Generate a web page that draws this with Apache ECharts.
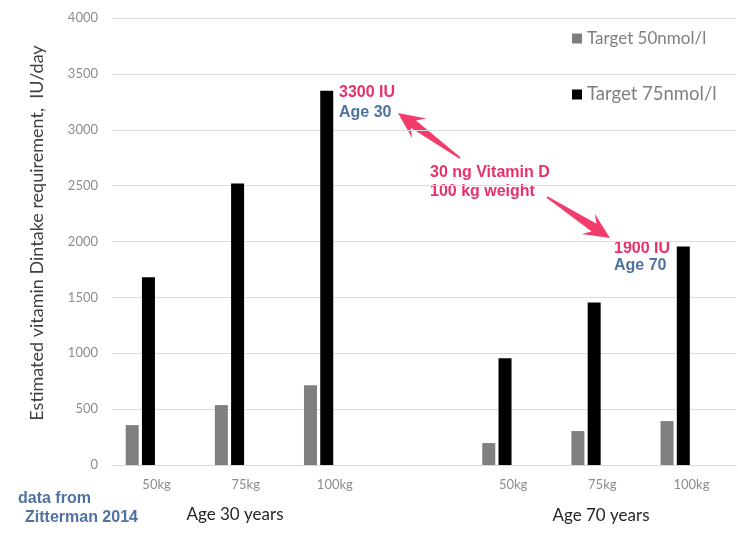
<!DOCTYPE html>
<html>
<head>
<meta charset="utf-8">
<script src="https://cdn.jsdelivr.net/npm/echarts@6/dist/echarts.min.js"></script>
<style>html,body{margin:0;padding:0;background:#fff}#c{width:738px;height:538px}</style>
</head>
<body>
<div id="c"></div>
<script>
const categories = ['50kg', '75kg', '100kg', '', '50kg', '75kg', '100kg'];
const target50 = [357, 536, 714, null, 196, 304, 393];
const target75 = [1679, 2518, 3348, null, 955, 1455, 1955];
const yTicks = [0, 500, 1000, 1500, 2000, 2500, 3000, 3500, 4000];
const seriesNames = ['Target 50nmol/l', 'Target 75nmol/l'];
const groupLabels = ['Age 30 years', 'Age 70 years'];

const chart = echarts.init(document.getElementById('c'));
const F = 'Lato, "Open Sans", sans-serif';
const A = '"Liberation Sans", Arial, sans-serif';
const pink = '#e8306a';
const blue = '#4f72a0';
const arrowCol = '#f23c6c';

function arrow(tail, tip) {
  const dx = tail[0] - tip[0], dy = tail[1] - tip[1];
  const len = Math.sqrt(dx * dx + dy * dy);
  const u = [dx / len, dy / len], n = [-u[1], u[0]];
  const p = (a, b) => [tip[0] + u[0] * a + n[0] * b, tip[1] + u[1] * a + n[1] * b];
  return {
    type: 'polygon',
    shape: { points: [p(0, 0), p(26, 12), p(19, 4.5), p(len, 0.8), p(len, -0.8), p(19, -4.5), p(26, -12)] },
    style: { fill: arrowCol }
  };
}

const empty = categories.map(() => null);

chart.setOption({
  animation: false,
  grid: { left: 112, right: 2, top: 18, bottom: 73 },
  legend: [
    { data: [seriesNames[0]], left: 567, top: 25, icon: 'rect', itemWidth: 10, itemHeight: 10, itemGap: 6,
      textStyle: { fontFamily: F, fontSize: 17, color: '#7f7f7f' } },
    { data: [seriesNames[1]], left: 567, top: 80, icon: 'rect', itemWidth: 10, itemHeight: 10, itemGap: 6,
      textStyle: { fontFamily: F, fontSize: 18.5, color: '#7f7f7f' } }
  ],
  xAxis: {
    type: 'category', data: categories,
    axisLine: { lineStyle: { color: '#d9d9d9' } },
    axisTick: { show: false },
    axisLabel: { color: '#8c8c8c', fontFamily: F, fontSize: 13, margin: 13, interval: 0 }
  },
  yAxis: {
    type: 'value', min: yTicks[0], max: yTicks[yTicks.length - 1], interval: yTicks[1] - yTicks[0],
    axisLine: { show: false }, axisTick: { show: false },
    axisLabel: { color: '#8c8c8c', fontFamily: F, fontSize: 13, margin: 14, formatter: v => String(v) },
    splitLine: { lineStyle: { color: '#dcdcdc' } }
  },
  series: [
    { name: seriesNames[0], type: 'bar', data: target50, barWidth: 13, barGap: '25%', itemStyle: { color: '#7f7f7f' } },
    { name: seriesNames[1], type: 'bar', data: target75, barWidth: 13, barGap: '25%', itemStyle: { color: '#000000' } },
    { name: 'pad1', type: 'bar', data: empty, barWidth: 13, barGap: '25%' },
    { name: 'pad2', type: 'bar', data: empty, barWidth: 13, barGap: '25%' }
  ],
  graphic: [
    { type: 'text', x: 37, y: 233, rotation: Math.PI / 2,
      style: { text: 'Estimated vitamin Dintake requirement,  IU/day', fontFamily: F, fontSize: 18, fill: '#404040', align: 'center', verticalAlign: 'middle' } },
    { type: 'text', x: 235, y: 515, style: { text: groupLabels[0], fontFamily: F, fontSize: 17, fill: '#262626', align: 'center', verticalAlign: 'middle' } },
    { type: 'text', x: 601, y: 516, style: { text: groupLabels[1], fontFamily: F, fontSize: 17, fill: '#262626', align: 'center', verticalAlign: 'middle' } },
    { type: 'text', x: 18, y: 499, style: { text: 'data from', fontFamily: A, fontWeight: 'bold', fontSize: 16, fill: blue, verticalAlign: 'middle' } },
    { type: 'text', x: 25, y: 518, style: { text: 'Zitterman 2014', fontFamily: A, fontWeight: 'bold', fontSize: 16, fill: blue, verticalAlign: 'middle' } },
    { type: 'text', x: 339, y: 93, style: { text: '3300 IU', fontFamily: A, fontWeight: 'bold', fontSize: 16, fill: pink, verticalAlign: 'middle' } },
    { type: 'text', x: 339, y: 113, style: { text: 'Age 30', fontFamily: A, fontWeight: 'bold', fontSize: 16, fill: blue, verticalAlign: 'middle' } },
    { type: 'text', x: 430, y: 173, style: { text: '30 ng Vitamin D', fontFamily: A, fontWeight: 'bold', fontSize: 16, fill: pink, verticalAlign: 'middle' } },
    { type: 'text', x: 430, y: 192, style: { text: '100 kg weight', fontFamily: A, fontWeight: 'bold', fontSize: 16, fill: pink, verticalAlign: 'middle' } },
    { type: 'text', x: 614, y: 249, style: { text: '1900 IU', fontFamily: A, fontWeight: 'bold', fontSize: 16, fill: pink, verticalAlign: 'middle' } },
    { type: 'text', x: 614, y: 266, style: { text: 'Age 70', fontFamily: A, fontWeight: 'bold', fontSize: 16, fill: blue, verticalAlign: 'middle' } },
    arrow([460, 158], [398, 113]),
    arrow([547, 197], [610, 238])
  ]
});
</script>
</body>
</html>
